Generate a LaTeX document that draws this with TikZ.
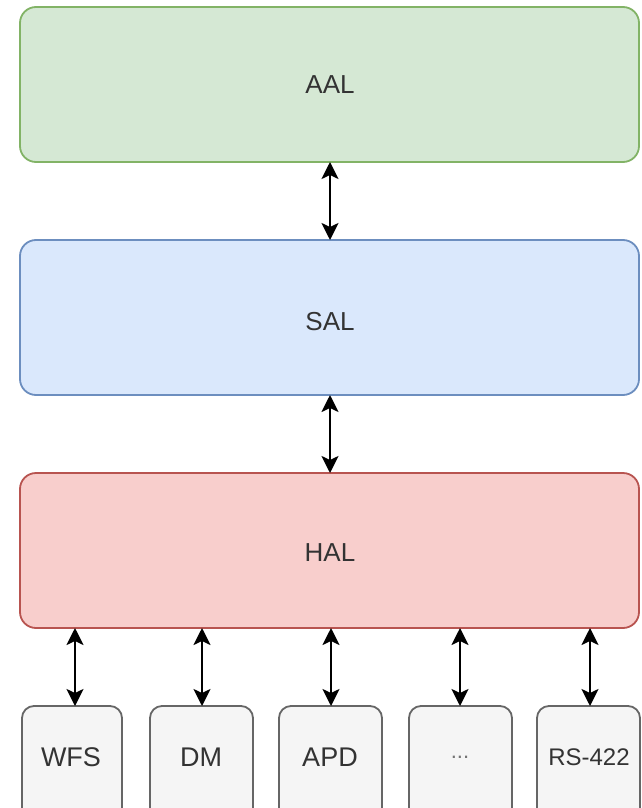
\documentclass[tikz,border=0pt]{standalone}
\usepackage{fontspec}
\setmainfont{Liberation Sans}
\usetikzlibrary{arrows.meta}
\definecolor{gfill}{HTML}{D5E8D4}\definecolor{gdraw}{HTML}{82B366}
\definecolor{bfill}{HTML}{DAE8FC}\definecolor{bdraw}{HTML}{6C8EBF}
\definecolor{rfill}{HTML}{F8CECC}\definecolor{rdraw}{HTML}{B85450}
\definecolor{kfill}{HTML}{F5F5F5}\definecolor{kdraw}{HTML}{666666}
\definecolor{ktext}{HTML}{333333}
\tikzset{
  layer/.style={rounded corners=16pt, line width=1.8pt, inner sep=0pt},
  dev/.style={rounded corners=12pt, line width=1.8pt, draw=kdraw, fill=kfill},
  lbl/.style={font=\fontsize{26}{28}\selectfont, text=black!80},
  dlbl/.style={font=\fontsize{27}{29}\selectfont, text=ktext},
  link/.style={line width=2.2pt, {Stealth[length=17pt,width=17pt,inset=4pt]}-{Stealth[length=17pt,width=17pt,inset=4pt]}}
}
\begin{document}
\begin{tikzpicture}[x=1pt,y=-1pt]
\clip (0,0) rectangle (641,808);
\fill[white] (0,0) rectangle (641,808);
% layers
\draw[layer, draw=gdraw, fill=gfill] (20,7) rectangle (639,162);
\node[lbl] (aal) at (330,85) {AAL};
\draw[layer, draw=bdraw, fill=bfill] (20,240) rectangle (639,395);
\node[lbl] (sal) at (330,322) {SAL};
\draw[layer, draw=rdraw, fill=rfill] (20,473) rectangle (639,628);
\node[lbl] (hal) at (330,553) {HAL};
\coordinate (aalb) at (330,162);
\coordinate (salt) at (330,240);
\coordinate (salb) at (330,395);
\coordinate (halt) at (330,473);
\draw[link] (aalb) -- (salt);
\draw[link] (salb) -- (halt);
% devices
\foreach \x/\w in {22/100, 150/103, 279/103, 409/103, 537/103}{
  \draw[dev] (\x,706) rectangle (\x+\w,840);
}
\node[dlbl] (wfs) at (71,757) {WFS};
\node[dlbl] (dm) at (201,757) {DM};
\node[dlbl] (apd) at (330,757) {APD};
\node[dlbl, font=\fontsize{22}{24}\selectfont, text=black!55] (dots) at (460,757) {...};
\node[dlbl, font=\fontsize{24}{26}\selectfont] (rs) at (589,757) {RS-422};
\foreach \x/\n in {75/1,202/2,331/3,460/4,590/5}{
  \coordinate (ht\n) at (\x,628);
  \coordinate (db\n) at (\x,706);
  \draw[link] (ht\n) -- (db\n);
}
\end{tikzpicture}
\end{document}
